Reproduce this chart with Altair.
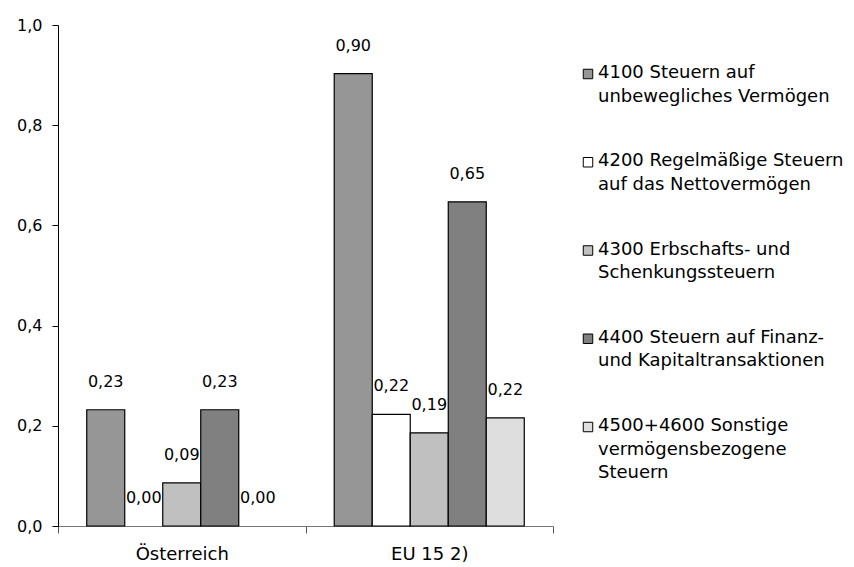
import altair as alt
import pandas as pd

FONT = "DejaVu Sans"

countries = ["Österreich", "EU 15 2)"]
series = ["4100", "4200", "4300", "4400", "4500+4600"]
legend_labels = [
    "4100 Steuern auf|unbewegliches Vermögen",
    "4200 Regelmäßige Steuern|auf das Nettovermögen",
    "4300 Erbschafts- und|Schenkungssteuern",
    "4400 Steuern auf Finanz-|und Kapitaltransaktionen",
    "4500+4600 Sonstige|vermögensbezogene|Steuern",
]
at_values = [0.232, 0.0, 0.086, 0.232, 0.0]
eu_values = [0.903, 0.223, 0.186, 0.647, 0.216]
colors = ["#969696", "#FFFFFF", "#C0C0C0", "#808080", "#DEDEDE"]
y_ticks = [0.0, 0.2, 0.4, 0.6, 0.8, 1.0]

rows = []
for c, vals in zip(countries, [at_values, eu_values]):
    for s, v in zip(series, vals):
        rows.append({"country": c, "series": s, "value": v})
df = pd.DataFrame(rows)

color_scale = alt.Scale(domain=series, range=colors)
no_border = alt.ViewBackground(stroke="transparent", strokeWidth=0)

base = alt.Chart(df).encode(
    x=alt.X(
        "country:N",
        sort=countries,
        scale=alt.Scale(paddingInner=0, paddingOuter=0),
        axis=alt.Axis(
            title=None,
            labelAngle=0,
            tickBand="extent",
            tickSize=7,
            labelPadding=12,
            labelFontSize=18,
            labelFont=FONT,
            labelColor="#000000",
            domainColor="#777777",
            tickColor="#555555",
        ),
    ),
    xOffset=alt.XOffset(
        "series:N", sort=series, scale=alt.Scale(paddingInner=0, paddingOuter=0.756)
    ),
)

bars = base.mark_bar(stroke="black").encode(
    y=alt.Y(
        "value:Q",
        scale=alt.Scale(domain=[0, 1], nice=False),
        axis=alt.Axis(
            title=None,
            values=y_ticks,
            grid=False,
            labelExpr="replace(format(datum.value, '.1f'), '.', ',')",
            tickSize=6,
            labelPadding=10,
            labelFontSize=16,
            labelFont=FONT,
            labelColor="#000000",
            domainColor="#000000",
            tickColor="#000000",
        ),
    ),
    color=alt.Color("series:N", scale=color_scale, legend=None),
    strokeWidth=alt.condition("datum.value > 0", alt.value(1.2), alt.value(0)),
)

labels = base.transform_calculate(
    label="replace(format(datum.value, '.2f'), '.', ',')"
).mark_text(dy=-28, baseline="middle", fontSize=16, font=FONT, color="#000000").encode(
    y=alt.Y("value:Q"),
    text=alt.Text("label:N"),
)

main = (bars + labels).properties(width=495, height=501, view=no_border)

leg_df = pd.DataFrame({"series": series, "text": legend_labels})
leg_base = alt.Chart(leg_df).encode(
    y=alt.Y(
        "series:N",
        sort=series,
        scale=alt.Scale(type="point", range=[49, 402], padding=0),
        axis=None,
    )
)
squares = leg_base.mark_square(
    size=90, stroke="black", strokeWidth=1, opacity=1, filled=True
).encode(
    x=alt.value(25),
    color=alt.Color("series:N", scale=color_scale, legend=None),
)
texts = leg_base.mark_text(
    align="left",
    baseline="alphabetic",
    dy=4,
    lineBreak="|",
    lineHeight=23.5,
    fontSize=18,
    font=FONT,
    color="#000000",
).encode(x=alt.value(35), text="text:N")
legend = (squares + texts).properties(width=285, height=501, view=no_border)

chart = (
    alt.hconcat(main, legend, spacing=10, bounds="flush")
    .properties(padding={"left": 16, "top": 17, "right": 0, "bottom": 0})
    .configure_view(strokeWidth=0, stroke="transparent")
    .configure(font=FONT, background="white")
)

chart.save("out.html", embed_options={"renderer": "svg", "actions": False})
